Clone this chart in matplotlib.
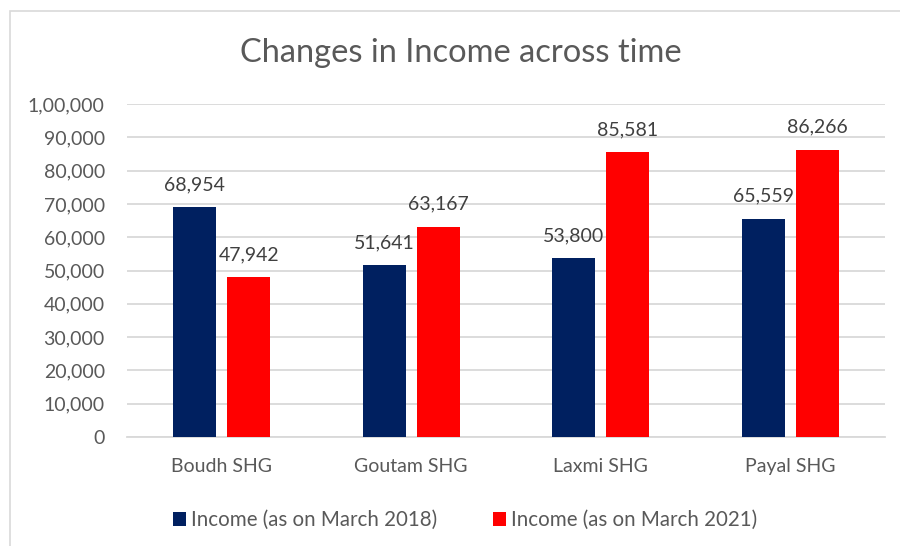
import numpy as np
import matplotlib.pyplot as plt
from matplotlib.patches import Rectangle
from matplotlib.ticker import FuncFormatter

groups = ['Boudh SHG', 'Goutam SHG', 'Laxmi SHG', 'Payal SHG']
income_2018 = [68954, 51641, 53800, 65559]
income_2021 = [47942, 63167, 85581, 86266]
series_names = ['Income (as on March 2018)', 'Income (as on March 2021)']
y_ticks = list(range(0, 100001, 10000))

navy = '#002060'
red = '#FF0000'
grey_text = '#595959'
grid_col = '#d9d9d9'

plt.rcParams['font.family'] = ['Lato', 'DejaVu Sans']


def indian_fmt(v, pos=None):
    s = str(int(round(v)))
    if len(s) <= 3:
        return s
    head, tail = s[:-3], s[-3:]
    parts = []
    while len(head) > 2:
        parts.insert(0, head[-2:])
        head = head[:-2]
    if head:
        parts.insert(0, head)
    return ','.join(parts + [tail])


fig = plt.figure(figsize=(9, 5.46), dpi=100)
ax = fig.add_axes([127 / 900, 1 - 437 / 546, (885 - 127) / 900, (437 - 104) / 546])

x = np.arange(len(groups))
w = 0.227
off = 0.1425
b1 = ax.bar(x - off, income_2018, w, color=navy, label=series_names[0], zorder=3)
b2 = ax.bar(x + off, income_2021, w, color=red, label=series_names[1], zorder=3)

for bars, vals in [(b1, income_2018), (b2, income_2021)]:
    for rect, v in zip(bars, vals):
        ax.annotate(indian_fmt(v), (rect.get_x() + rect.get_width() / 2, v),
                    xytext=(0, 10), textcoords='offset points',
                    ha='center', va='bottom', fontsize=14, color='#404040')

ax.set_xlim(-0.5, len(groups) - 0.5)
ax.set_ylim(0, 100000)
ax.set_yticks(y_ticks)
ax.yaxis.set_major_formatter(FuncFormatter(indian_fmt))
ax.set_xticks(x)
ax.set_xticklabels(groups)
ax.tick_params(axis='both', length=0, labelsize=14, labelcolor=grey_text)
ax.tick_params(axis='y', pad=16)
ax.tick_params(axis='x', pad=15)
ax.grid(axis='y', color=grid_col, linewidth=1.3, zorder=0)
for side in ['top', 'right', 'left']:
    ax.spines[side].set_visible(False)
ax.spines['bottom'].set_color(grid_col)
ax.spines['bottom'].set_linewidth(1.3)

fig.text(461 / 900, 1 - 53 / 546, 'Changes in Income across time', ha='center', va='center',
         fontsize=23.5, color=grey_text)

fig.legend(handles=[b1, b2], loc='center', bbox_to_anchor=(465 / 900, 1 - 520 / 546),
           ncol=2, frameon=False, fontsize=14.8, labelcolor=grey_text,
           handlelength=0.65, handleheight=0.65, handletextpad=0.25, columnspacing=2.7)

# chart area border (only top and left visible in the crop)
fig.patches.append(Rectangle((10 / 900, -0.1), 1.2, 1 - 11 / 546 + 0.1,
                             transform=fig.transFigure, fill=False,
                             edgecolor=grid_col, linewidth=1.2))

fig.savefig('out.png', dpi=100)
